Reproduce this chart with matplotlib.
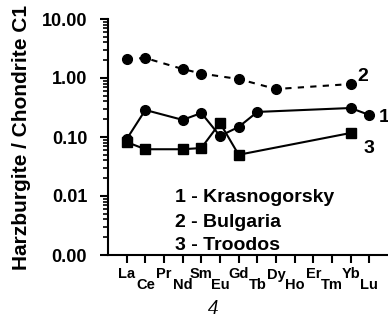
import matplotlib
matplotlib.use("Agg")
import matplotlib.pyplot as plt
from matplotlib.ticker import LogLocator, FormatStrFormatter, NullFormatter

# -----------------------------
# Data
# -----------------------------
elements = ["La", "Ce", "Pr", "Nd", "Sm", "Eu", "Gd", "Tb", "Dy", "Ho", "Er", "Tm", "Yb", "Lu"]
positions = list(range(1, len(elements) + 1))

# 1 - Krasnogorsky (solid, circles)
kras_el = ["La", "Ce", "Nd", "Sm", "Eu", "Gd", "Tb", "Yb", "Lu"]
kras_val = [0.092, 0.287, 0.195, 0.255, 0.104, 0.148, 0.266, 0.31, 0.236]

# 2 - Bulgaria (dashed, circles)
bulg_el = ["La", "Ce", "Nd", "Sm", "Gd", "Dy", "Yb"]
bulg_val = [2.1, 2.18, 1.42, 1.19, 0.96, 0.65, 0.79]

# 3 - Troodos (solid, squares)
troo_el = ["La", "Ce", "Nd", "Sm", "Eu", "Gd", "Yb"]
troo_val = [0.082, 0.062, 0.062, 0.065, 0.173, 0.05, 0.117]

legend_lines = ["1 - Krasnogorsky", "2 - Bulgaria", "3 - Troodos"]

pos = dict(zip(elements, positions))

plt.rcParams['font.family'] = ['Liberation Sans', 'DejaVu Sans']
plt.rcParams['font.weight'] = 'bold'

fig = plt.figure(figsize=(3.88, 3.2), dpi=100)
ax = fig.add_axes([108 / 388, 1 - 255 / 320, 280 / 388, 236 / 320])

# -----------------------------
# Series
# -----------------------------
ax.plot([pos[e] for e in kras_el], kras_val, color="black", lw=1.5,
        marker="o", ms=7, clip_on=False)
ax.plot([pos[e] for e in bulg_el], bulg_val, color="black", lw=1.5,
        ls=(0, (3, 3)), marker="o", ms=7, clip_on=False)
ax.plot([pos[e] for e in troo_el], troo_val, color="black", lw=1.5,
        marker="s", ms=6.5, clip_on=False)

ax.text(14.5, 0.218, "1", fontsize=14, fontweight="bold", va="center", ha="left", clip_on=False)
ax.text(13.36, 1.04, "2", fontsize=14, fontweight="bold", va="center", ha="left")
ax.text(13.68, 0.065, "3", fontsize=14, fontweight="bold", va="center", ha="left")

for txt, yv in zip(legend_lines, [0.0096, 0.0036, 0.00147]):
    ax.text(3.58, yv, txt, fontsize=14, fontweight="bold", va="center", ha="left")

# -----------------------------
# Axes
# -----------------------------
ax.set_yscale("log")
ax.set_ylim(0.001, 10)
ax.set_xlim(0, 15)
ax.yaxis.set_major_locator(LogLocator(base=10, numticks=10))
ax.yaxis.set_minor_locator(LogLocator(base=10, subs=range(2, 10), numticks=10))
ax.yaxis.set_major_formatter(FormatStrFormatter("%.2f"))
ax.yaxis.set_minor_formatter(NullFormatter())

# alternate label heights: major ticks (upper) and minor ticks (lower)
ax.set_xticks(positions[0::2], elements[0::2])
ax.set_xticks(positions[1::2], elements[1::2], minor=True)
ax.tick_params(axis="x", which="major", length=6, width=1.5, pad=3, labelsize=10.5)
ax.tick_params(axis="x", which="minor", length=6, width=1.5, pad=10.5, labelsize=10.5)
ax.tick_params(axis="y", which="major", length=6, width=1.5, pad=9, labelsize=13)
ax.tick_params(axis="y", which="minor", length=3.5, width=1.2)

for sp in ["top", "right"]:
    ax.spines[sp].set_visible(False)
for sp in ["left", "bottom"]:
    ax.spines[sp].set_linewidth(1.5)

ax.set_ylabel("Harzburgite / Chondrite C1", fontsize=15, fontweight="bold", labelpad=8)

fig.text(213 / 388, 1 - 310 / 320, "4", fontsize=15, style="italic",
         family=["Liberation Serif", "DejaVu Serif"], fontweight="normal",
         ha="center", va="center")

plt.savefig("out.png", dpi=100)
